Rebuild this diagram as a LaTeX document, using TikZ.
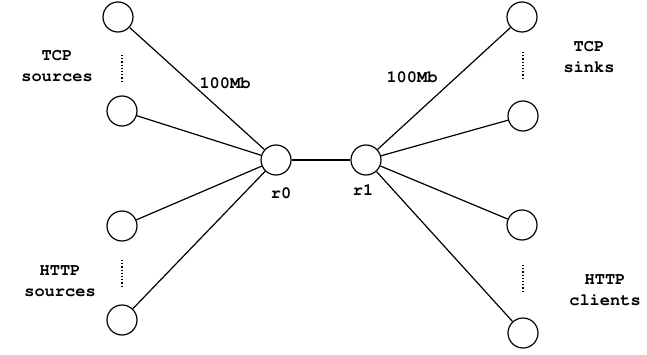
\documentclass[tikz,border=0pt]{standalone}
\usepackage[T1]{fontenc}
\usepackage{courier}
\usetikzlibrary{positioning}

\tikzset{
  host/.style={circle,draw,line width=1.2pt,minimum size=30pt,inner sep=0pt},
  txt/.style={font=\ttfamily\bfseries\fontsize{17}{21}\selectfont,align=center,inner sep=0pt},
  link/.style={line width=1.2pt},
  dots/.style={line width=1.2pt,dotted}
}

\begin{document}
\begin{tikzpicture}[x=1pt,y=1pt]
    \useasboundingbox (0,0) rectangle (647,354);
    % routers
    \node[host] (r0) at (276,194) {};
    \node[host] (r1) at (366,194) {};
    \node[txt,below=12pt of r0,xshift=5pt] (r0l) {r0};
    \node[txt,below=9pt of r1,xshift=-3pt] (r1l) {r1};
    % left side
    \node[host] (s1) at (118,337) {};
    \node[host] (s2) at (122,243) {};
    \node[host] (h1) at (122,128) {};
    \node[host] (h2) at (122,34) {};
    % right side
    \node[host] (k1) at (522,337) {};
    \node[host] (k2) at (523,238) {};
    \node[host] (c1) at (522,129) {};
    \node[host] (c2) at (523,21) {};

    \foreach \n in {s1,s2,h1,h2} {
      \draw[link] (\n) -- (r0);
    }
    \foreach \n in {k1,k2,c1,c2} {
      \draw[link] (r1) -- (\n);
    }
    \draw[link] (r0) -- (r1);

    \draw[dots] (122,299) -- (122,272);
    \draw[dots] (122,94) -- (122,67);
    \draw[dots] (523,302) -- (523,274);
    \draw[dots] (523,89) -- (523,62);

    \node[txt] (tcps) at (57,288) {TCP\\sources};
    \node[txt] (https) at (60,73) {HTTP\\sources};
    \node[txt] (tcpk) at (589,297) {TCP\\sinks};
    \node[txt] (httpc) at (605,64) {HTTP\\clients};
    \node[txt] (bw0) at (225,271) {100Mb};
    \node[txt] (bw1) at (412,277) {100Mb};
\end{tikzpicture}
\end{document}
